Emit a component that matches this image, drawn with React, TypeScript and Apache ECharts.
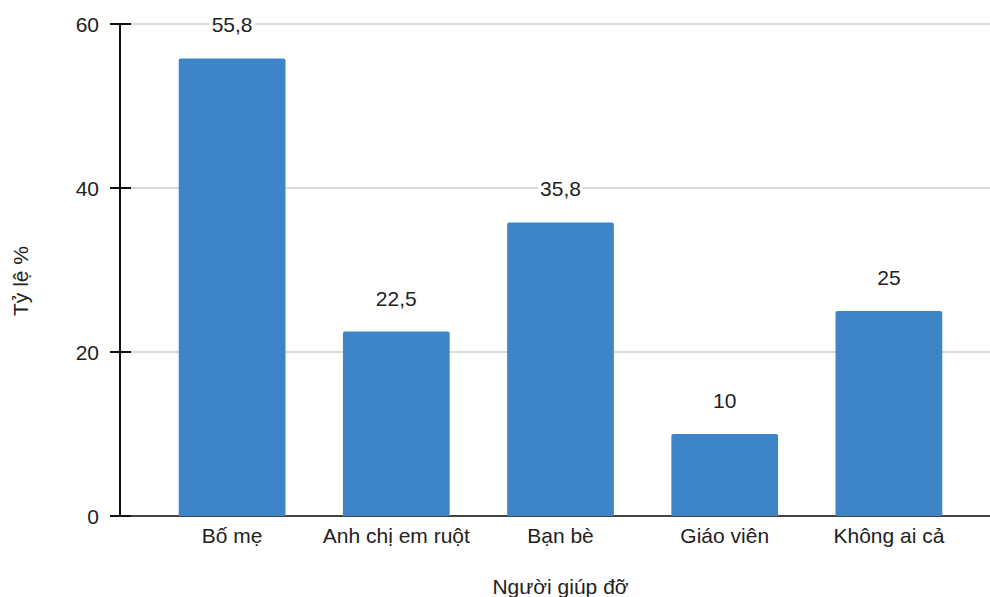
import React, { useEffect, useRef } from "react";
import * as echarts from "echarts";

const categories = ["Bố mẹ", "Anh chị em ruột", "Bạn bè", "Giáo viên", "Không ai cả"];
const values = [55.8, 22.5, 35.8, 10, 25];
const valueLabels = ["55,8", "22,5", "35,8", "10", "25"];
const yTicks = [0, 20, 40, 60];

export default function App() {
  const ref = useRef<HTMLDivElement>(null);
  useEffect(() => {
    if (!ref.current) return;
    const chart = echarts.init(ref.current, undefined, { renderer: "svg" });
    const font = "Liberation Sans";
    const fs = 21;
    const yMin = yTicks[0];
    const yMax = yTicks[yTicks.length - 1];
    const yInt = yTicks[1] - yTicks[0];
    chart.setOption({
      animation: false,
      textStyle: { fontFamily: font },
      grid: [
        { left: 120, right: 0, top: 24, bottom: 81, outerBoundsMode: "none", containLabel: false },
        { left: 150, right: 19, top: 24, bottom: 81, outerBoundsMode: "none", containLabel: false },
      ],
      xAxis: [
        {
          gridIndex: 0,
          type: "value",
          min: 0,
          max: 1,
          axisLine: { show: true, lineStyle: { color: "#444", width: 2 } },
          axisTick: { show: false },
          axisLabel: { show: false },
          splitLine: { show: false },
        },
        {
          gridIndex: 1,
          type: "category",
          data: categories,
          axisLine: { show: false },
          axisTick: { show: false },
          axisLabel: {
            color: "#222",
            fontSize: fs,
            margin: 9,
            fontFamily: font,
            interval: 0,
            hideOverlap: false,
          },
          name: "Người giúp đỡ",
          nameLocation: "middle",
          nameGap: 60,
          nameTextStyle: { color: "#222", fontSize: fs, fontFamily: font },
        },
      ],
      yAxis: [
        {
          gridIndex: 0,
          type: "value",
          position: "left",
          min: yMin,
          max: yMax,
          interval: yInt,
          axisLine: { show: true, lineStyle: { color: "#111", width: 2 } },
          axisTick: { show: true, length: 10, lineStyle: { color: "#111", width: 2 } },
          axisLabel: { color: "#222", fontSize: fs, margin: 21, fontFamily: font },
          splitLine: { show: true, lineStyle: { color: "#ccc", width: 1.5 } },
        },
        {
          gridIndex: 0,
          type: "value",
          position: "left",
          min: yMin,
          max: yMax,
          interval: yInt,
          axisLine: { show: false },
          axisTick: { show: true, inside: true, length: 11, lineStyle: { color: "#111", width: 2 } },
          axisLabel: { show: false },
          splitLine: { show: false },
        },
        {
          gridIndex: 1,
          type: "value",
          min: yMin,
          max: yMax,
          interval: yInt,
          show: false,
        },
      ],
      series: [
        {
          type: "bar",
          xAxisIndex: 1,
          yAxisIndex: 2,
          data: values,
          barCategoryGap: "35%",
          itemStyle: { color: "#3d85c6", borderRadius: [2, 2, 0, 0] },
          label: {
            show: true,
            position: "top",
            distance: 23,
            color: "#222",
            fontSize: fs,
            fontFamily: font,
            backgroundColor: "#fff",
            padding: [0, 2],
            formatter: (p: any) => valueLabels[p.dataIndex],
          },
        },
      ],
      graphic: [
        {
          type: "text",
          x: 20,
          y: 281,
          rotation: Math.PI / 2,
          style: {
            text: "Tỷ lệ %",
            fontSize: fs,
            fontFamily: font,
            fill: "#222",
            align: "center",
            verticalAlign: "middle",
          },
        },
      ],
    });
    return () => chart.dispose();
  }, []);
  return <div ref={ref} style={{ width: 990, height: 597, position: "absolute", left: 0, top: 0 }} />;
}
